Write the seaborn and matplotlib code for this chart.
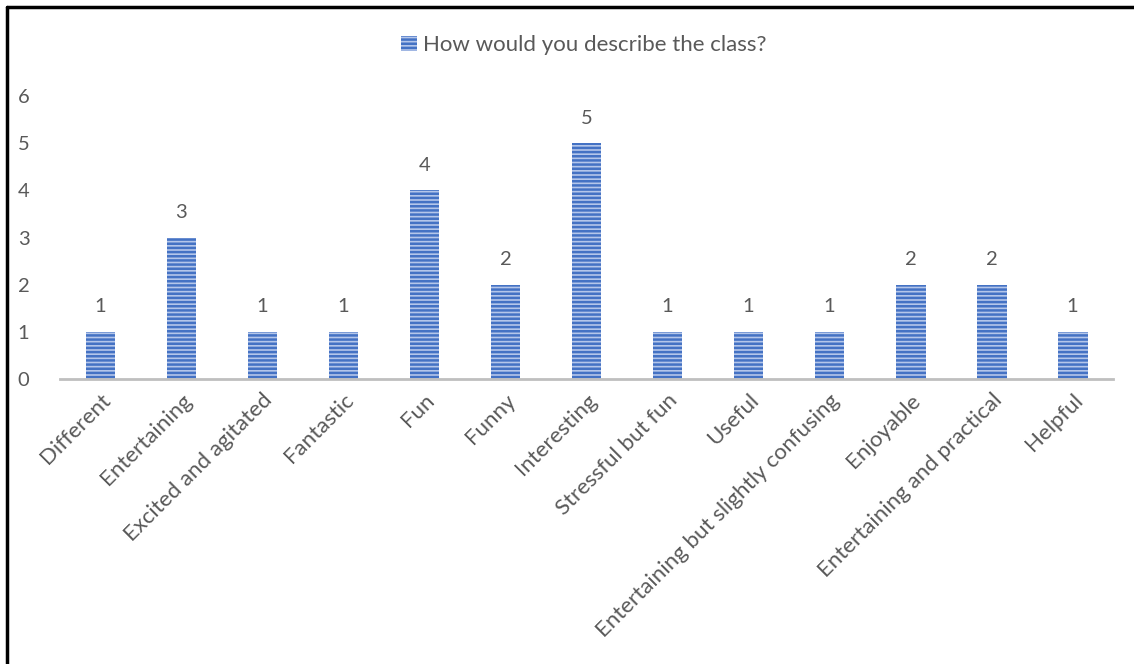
import matplotlib
matplotlib.use("Agg")
import matplotlib.pyplot as plt
import seaborn as sns
import pandas as pd
from matplotlib.lines import Line2D
from matplotlib.patches import Patch

categories = ["Different", "Entertaining", "Excited and agitated", "Fantastic", "Fun",
              "Funny", "Interesting", "Stressful but fun", "Useful",
              "Entertaining but slightly confusing", "Enjoyable",
              "Entertaining and practical", "Helpful"]
values = [1, 3, 1, 1, 4, 2, 5, 1, 1, 1, 2, 2, 1]
series_name = "How would you describe the class?"
yticks = [0, 1, 2, 3, 4, 5, 6]

sns.set_theme(style="white")
plt.rcParams['font.family'] = ['Lato', 'DejaVu Sans']
plt.rcParams['hatch.linewidth'] = 1.8

text_color = "#595959"
face = "#b4c6ea"
stripe = "#4472C4"

df = pd.DataFrame({"cat": categories, "val": values})

fig = plt.figure(figsize=(11.34, 6.64), dpi=100)
ax = fig.add_axes([0.0529, 0.4292, 0.9286, 0.4262])

sns.barplot(data=df, x="cat", y="val", ax=ax, color=face, width=0.37,
            saturation=1, order=categories)
for p in ax.patches:
    p.set_hatch("----")
    p.set_edgecolor(stripe)
    p.set_linewidth(0)

ax.set_xlim(-0.5, len(categories) - 0.5)
ax.set_ylim(0, 6)
ax.set_yticks(yticks)
ax.set_yticklabels([str(t) for t in yticks], fontsize=14.5, color=text_color)
ax.tick_params(axis='y', length=0, pad=22)
ax.tick_params(axis='x', length=0, pad=8)
ax.set_xticks(range(len(categories)))
ax.set_xticklabels(categories, rotation=45, ha='right', rotation_mode='anchor',
                   fontsize=16, color=text_color)
ax.set_xlabel("")
ax.set_ylabel("")
for s in ["top", "right", "left"]:
    ax.spines[s].set_visible(False)
ax.spines["bottom"].set_color("#bfbfbf")
ax.spines["bottom"].set_linewidth(2)
ax.grid(False)

for c in ax.containers:
    ax.bar_label(c, labels=[str(v) for v in values], padding=12, fontsize=14.5,
                 color=text_color)

handle = Patch(facecolor=face, edgecolor=stripe, hatch="----", linewidth=0)
fig.legend(handles=[handle], labels=[series_name], loc="center",
           bbox_to_anchor=(0.515, 0.932), frameon=False, fontsize=16,
           labelcolor=text_color, handlelength=0.7, handleheight=0.7,
           handletextpad=0.3)

fig.add_artist(Line2D([0.0066, 0.0066], [0.0, 0.9895], color="black", lw=2.5,
                      transform=fig.transFigure))
fig.add_artist(Line2D([0.0066, 1.0], [0.9895, 0.9895], color="black", lw=2.5,
                      transform=fig.transFigure))

fig.savefig("out.png", dpi=100, facecolor="white")
